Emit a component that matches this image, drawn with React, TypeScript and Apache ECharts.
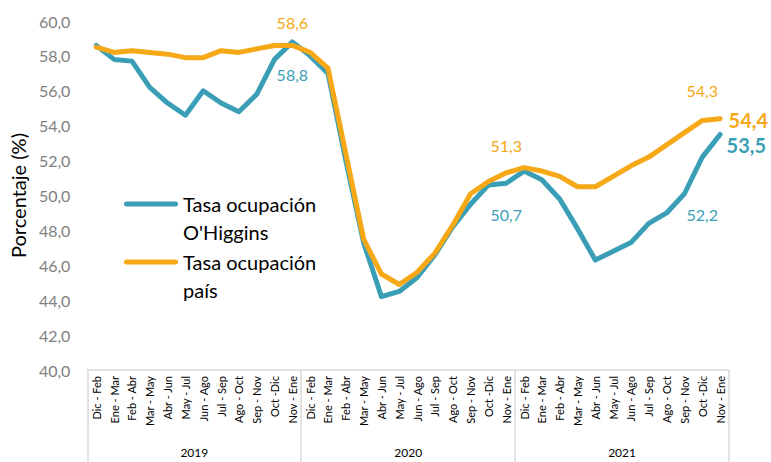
import React, { useEffect, useRef } from "react";
import * as echarts from "echarts";

const years = ["2019", "2020", "2021"];
const periods = [
  "Dic - Feb", "Ene - Mar", "Feb - Abr", "Mar - May", "Abr - Jun", "May - Jul",
  "Jun - Ago", "Jul - Sep", "Ago - Oct", "Sep - Nov", "Oct -Dic", "Nov - Ene",
];
const categories = years.flatMap(() => periods);

const ohiggins = [
  58.6, 57.8, 57.7, 56.2, 55.3, 54.6, 56.0, 55.3, 54.8, 55.8, 57.8, 58.8,
  58.0, 57.0, 52.0, 47.3, 44.2, 44.5, 45.3, 46.6, 48.2, 49.5, 50.6, 50.7,
  51.4, 50.9, 49.8, 48.1, 46.3, 46.8, 47.3, 48.4, 49.0, 50.1, 52.2, 53.5,
];
const pais = [
  58.5, 58.2, 58.3, 58.2, 58.1, 57.9, 57.9, 58.3, 58.2, 58.4, 58.6, 58.6,
  58.2, 57.3, 52.4, 47.5, 45.5, 44.9, 45.6, 46.7, 48.3, 50.1, 50.8, 51.3,
  51.6, 51.4, 51.1, 50.5, 50.5, 51.1, 51.7, 52.2, 52.9, 53.6, 54.3, 54.4,
];

const seriesNames = ["Tasa ocupación O'Higgins", "Tasa ocupación país"];
const legendLines: Record<string, string> = {
  "Tasa ocupación O'Higgins": "Tasa ocupación\nO'Higgins",
  "Tasa ocupación país": "Tasa ocupación\npaís",
};

const TEAL = "#3A9FB6";
const ORANGE = "#F6A817";
const FONT = "Lato";

// rounded bar in the top 5px of a 54x33 box, so it lines up with the first text line
const LEGEND_ICON =
  "path://M2.5,0 L51.5,0 A2.5,2.5 0 0 1 51.5,5 L2.5,5 A2.5,2.5 0 0 1 2.5,0 Z M0,33 L0.001,33 L0,33.001 Z";

const fmt = (v: number) => v.toFixed(1).replace(".", ",");

// label placement for selected points
const tealLabels: Record<number, any> = {
  11: { position: "bottom", distance: 24, fontSize: 16 },
  23: { position: "bottom", distance: 23, fontSize: 16 },
  34: { position: "bottom", distance: 49, fontSize: 16 },
  35: { position: "right", distance: 6, offset: [0, 11], fontSize: 20, fontWeight: "bold" },
};
const orangeLabels: Record<number, any> = {
  11: { position: "top", distance: 14, fontSize: 16 },
  23: { position: "top", distance: 19, fontSize: 16 },
  34: { position: "top", distance: 21, fontSize: 16 },
  35: { position: "right", distance: 8, offset: [0, 1], fontSize: 20, fontWeight: "bold" },
};

function buildData(values: number[], labels: Record<number, any>, color: string) {
  return values.map((v, i) =>
    labels[i]
      ? {
          value: v,
          label: {
            show: true,
            color,
            fontFamily: FONT,
            formatter: (p: any) => fmt(p.value),
            ...labels[i],
          },
        }
      : v
  );
}

export default function App() {
  const ref = useRef<HTMLDivElement>(null);
  useEffect(() => {
    if (!ref.current) return;
    const chart = echarts.init(ref.current, undefined, { renderer: "svg" });
    chart.setOption({
      animation: false,
      textStyle: { fontFamily: FONT },
      grid: { left: 87, right: 42, top: 21, bottom: 92, containLabel: false },
      legend: {
        orient: "vertical",
        left: 124,
        top: 190,
        padding: 0,
        itemGap: 2,
        itemWidth: 54,
        itemHeight: 33,
        icon: LEGEND_ICON,
        data: seriesNames,
        formatter: (name: string) => legendLines[name] || name,
        textStyle: {
          fontFamily: FONT,
          fontSize: 20,
          lineHeight: 28,
          color: "#000",
        },
      },
      xAxis: [
        {
          type: "category",
          data: categories,
          boundaryGap: true,
          axisLine: { onZero: false, lineStyle: { color: "#d9d9d9", width: 1.5 } },
          axisTick: { show: false },
          axisLabel: { rotate: 90, interval: 0, fontSize: 11, color: "#000", margin: 6, fontFamily: FONT },
          splitLine: { show: false },
        },
        {
          type: "category",
          data: years,
          position: "bottom",
          boundaryGap: true,
          axisLine: { show: false, onZero: false },
          axisTick: { show: true, length: 92, lineStyle: { color: "#d9d9d9", width: 1.5 } },
          axisLabel: { margin: 76, fontSize: 12, color: "#000", fontFamily: FONT },
          splitLine: { show: false },
        },
      ],
      yAxis: {
        type: "value",
        min: 40,
        max: 60,
        interval: 2,
        axisLine: { show: false },
        axisTick: { show: false },
        splitLine: { show: false },
        axisLabel: { formatter: (v: number) => fmt(v), color: "#808080", fontSize: 16, margin: 17, fontFamily: FONT },
        name: "Porcentaje (%)",
        nameLocation: "middle",
        nameGap: 58,
        nameTextStyle: { fontSize: 20, color: "#000", fontFamily: FONT },
      },
      series: [
        {
          name: seriesNames[0],
          type: "line",
          xAxisIndex: 0,
          data: buildData(ohiggins, tealLabels, TEAL),
          symbol: "circle",
          symbolSize: 1,
          showSymbol: true,
          showAllSymbol: true,
          color: TEAL,
          itemStyle: { color: TEAL },
          lineStyle: { width: 5, color: TEAL, cap: "round", join: "round" },
        },
        {
          name: seriesNames[1],
          type: "line",
          xAxisIndex: 0,
          data: buildData(pais, orangeLabels, ORANGE),
          symbol: "circle",
          symbolSize: 1,
          showSymbol: true,
          showAllSymbol: true,
          color: ORANGE,
          itemStyle: { color: ORANGE },
          lineStyle: { width: 5, color: ORANGE, cap: "round", join: "round" },
        },
      ],
    });
    return () => chart.dispose();
  }, []);
  return (
    <div
      ref={ref}
      style={{ position: "fixed", left: 0, top: 0, width: 771, height: 462, background: "#fff" }}
    />
  );
}
